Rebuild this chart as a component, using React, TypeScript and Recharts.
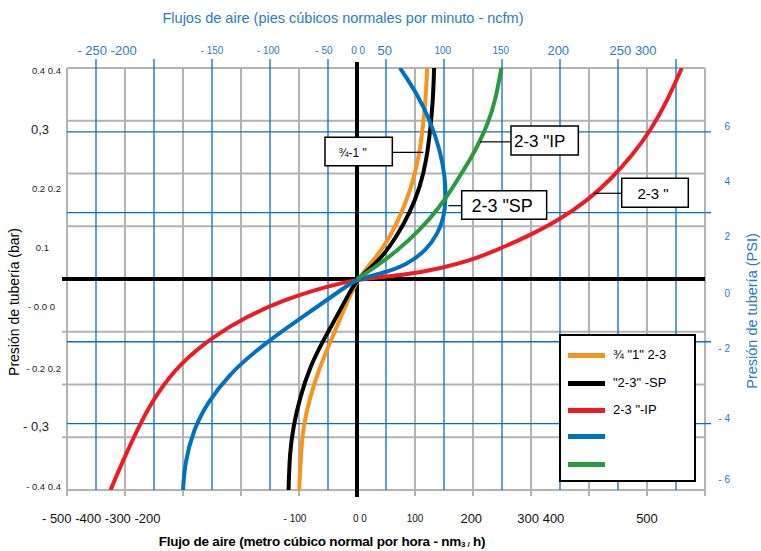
import React from 'react';
import {
  ComposedChart,
  Line,
  XAxis,
  YAxis,
  ReferenceLine,
  ReferenceArea,
  Legend,
  Label,
} from 'recharts';

// ---------- data (x: nm3/h, y: bar) ----------
const curveOrange = [
  { x: -99.5, y: -0.4 }, { x: -97, y: -0.337 }, { x: -93, y: -0.28 }, { x: -81, y: -0.223 },
  { x: -64, y: -0.166 }, { x: -42, y: -0.109 }, { x: -20, y: -0.052 }, { x: 0, y: 0 },
  { x: 34, y: 0.042 }, { x: 57, y: 0.08 }, { x: 77, y: 0.125 }, { x: 94, y: 0.175 },
  { x: 106, y: 0.226 }, { x: 114, y: 0.289 }, { x: 119, y: 0.352 }, { x: 121, y: 0.4 },
];
const curveBlack = [
  { x: -118, y: -0.4 }, { x: -116, y: -0.33 }, { x: -110, y: -0.28 }, { x: -98, y: -0.223 },
  { x: -81, y: -0.166 }, { x: -58, y: -0.116 }, { x: -35, y: -0.071 }, { x: -14, y: -0.028 },
  { x: 0, y: 0 }, { x: 40, y: 0.036 }, { x: 68, y: 0.08 }, { x: 91, y: 0.125 },
  { x: 109, y: 0.175 }, { x: 120, y: 0.226 }, { x: 127, y: 0.289 }, { x: 131, y: 0.339 },
  { x: 133, y: 0.4 },
];
const curveRed = [
  { x: -425, y: -0.4 }, { x: -403, y: -0.343 }, { x: -374, y: -0.274 }, { x: -345, y: -0.217 },
  { x: -305, y: -0.16 }, { x: -248, y: -0.109 }, { x: -190, y: -0.071 }, { x: -127, y: -0.04 },
  { x: -58, y: -0.016 }, { x: 0, y: 0 }, { x: 86, y: 0.008 }, { x: 143, y: 0.02 },
  { x: 195, y: 0.035 }, { x: 235, y: 0.052 }, { x: 293, y: 0.08 }, { x: 350, y: 0.113 },
  { x: 396, y: 0.148 }, { x: 436, y: 0.187 }, { x: 476, y: 0.236 }, { x: 508, y: 0.285 },
  { x: 534, y: 0.336 }, { x: 560, y: 0.4 },
];
const curveBlue = [
  { x: -300, y: -0.4 }, { x: -297, y: -0.349 }, { x: -282, y: -0.286 }, { x: -259, y: -0.236 },
  { x: -219, y: -0.179 }, { x: -173, y: -0.135 }, { x: -127, y: -0.097 }, { x: -69, y: -0.053 },
  { x: -24, y: -0.018 }, { x: 0, y: 0 }, { x: 45, y: 0.011 }, { x: 86, y: 0.027 },
  { x: 120, y: 0.055 }, { x: 140, y: 0.087 }, { x: 150, y: 0.118 }, { x: 153, y: 0.15 },
  { x: 152, y: 0.194 }, { x: 143, y: 0.245 }, { x: 126, y: 0.301 }, { x: 103, y: 0.352 },
  { x: 74, y: 0.4 },
];
const curveGreen = [
  { x: 0, y: 0 }, { x: 28, y: 0.02 }, { x: 68, y: 0.052 }, { x: 109, y: 0.093 },
  { x: 143, y: 0.137 }, { x: 166, y: 0.175 }, { x: 180, y: 0.2 }, { x: 195, y: 0.226 },
  { x: 210, y: 0.257 }, { x: 225, y: 0.293 }, { x: 238, y: 0.335 }, { x: 249, y: 0.4 },
];

const seriesNames = ['s1', 's2', 's3', 's4', 's5'];
const seriesData = [curveOrange, curveBlack, curveRed, curveBlue, curveGreen];
const legendLabels = ['¾ "1" 2-3', '"2-3" -SP', '2-3 "-IP', '', ''];

// axes / grid values
const xDomain = [-500, 600];
const yDomain = [-0.4, 0.4];
const xGridTicks = [-500, -400, -300, -200, -100, 0, 100, 200, 300, 400, 500, 600];
const xBlueTicks = [-450, -350, -250, -150, -50, 50, 150, 250, 350, 450, 550];
const yGridTicks = [0.4, 0.3, 0.2, 0.1, 0, -0.1, -0.2, -0.3, -0.4];
const yBlueTicks = [0.279, 0.126, -0.119, -0.274];

const topLabelValues = [-431, -250, -153, -57, 2, 48, 148, 248, 347, 476];
const topLabelTexts = ['- 250 -200', '- 150', '- 100', '- 50', '0 0', '50', '100', '150', '200', '250 300'];
const bottomLabelValues = [-441, -107, 5, 100, 197, 317, 500];
const bottomLabelTexts = ['- 500 -400 -300 -200', '- 100', '0 0', '100', '200', '300 400', '500'];
const leftLabelValues = [0.395, 0.284, 0.171, 0.059, -0.053, -0.17, -0.279, -0.394];
const leftLabelTexts = ['0.4 0.4', '0,3', '0.2 0.2', '0.1', '- 0.0 0', '- 0.2 0.2', '- 0,3', '- 0.4 0.4'];
const rightLabelValues = [0.29, 0.185, 0.081, -0.027, -0.132, -0.264, -0.38];
const rightLabelTexts = ['6', '4', '2', '0', '- 2', '- 4', '- 6'];

// annotation callouts (box in data coords + leader line end)
const calloutTexts = ['¾-1 "', '2-3 "IP', '2-3 "SP', '2-3 "'];
const calloutBoxX = [[-55.2, 60.9], [265.5, 381.6], [180.5, 327], [456.4, 571.2]];
const calloutBoxY = [[0.2148, 0.2686], [0.235, 0.29], [0.1132, 0.1674], [0.1359, 0.1909]];
const calloutLeaderX = [114.3, 212, 157.4, 409];
const calloutLeaderY = [0.24, 0.26, 0.139, 0.1625];

// ---------- styles ----------
const FONT = '"Liberation Sans", Arial, Helvetica, sans-serif';
const COLORS = ['#f7941d', '#000000', '#ed1c24', '#0070c0', '#2a9a3f'];
const GRID_GRAY = '#b3b3b3';
const GRID_BLUE = '#0a6fc2';
const TEXT_BLUE = '#2b7bc4';

const topLarge = ['- 250 -200', '50', '200', '250 300'];
const bottomLarge = ['- 500 -400 -300 -200', '200', '300 400', '500'];
const leftLarge = ['0,3', '- 0,3'];
const leftEndOffset: Record<string, number> = {
  '0.4 0.4': -6, '0,3': -18, '0.2 0.2': -6, '0.1': -18, '- 0.0 0': -12,
  '- 0.2 0.2': -6, '- 0,3': -18, '- 0.4 0.4': -6,
};
const calloutFont = [12, 17, 18, 15];
const calloutAnchorDx = [-6, null, -2, -2] as (number | null)[];

const topTicks = [...topLabelValues].sort((a, b) => a - b);
const bottomTicks = [...bottomLabelValues].sort((a, b) => a - b);

const TopTick = (props: any) => {
  const { x, y, payload } = props;
  const i = topLabelValues.indexOf(payload.value);
  if (i < 0) return <g />;
  const t = topLabelTexts[i];
  return (
    <text x={x} y={y - 18} textAnchor="middle" dominantBaseline="central"
      fontFamily={FONT} fontSize={topLarge.includes(t) ? 13 : 10} fill={TEXT_BLUE}>
      {t}
    </text>
  );
};

const BottomTick = (props: any) => {
  const { x, y, payload } = props;
  const i = bottomLabelValues.indexOf(payload.value);
  if (i < 0) return <g />;
  const t = bottomLabelTexts[i];
  return (
    <text x={x} y={y + 28} textAnchor="middle" dominantBaseline="central"
      fontFamily={FONT} fontSize={bottomLarge.includes(t) ? 13 : 10} fill="#111">
      {t}
    </text>
  );
};

const LeftTick = (props: any) => {
  const { x, y, payload } = props;
  const i = leftLabelValues.indexOf(payload.value);
  if (i < 0) return <g />;
  const t = leftLabelTexts[i];
  return (
    <text x={x + (leftEndOffset[t] ?? -6)} y={y} textAnchor="end" dominantBaseline="central"
      fontFamily={FONT} fontSize={leftLarge.includes(t) ? 13 : 9.5} fill="#222">
      {t}
    </text>
  );
};

const RightTick = (props: any) => {
  const { x, y, payload } = props;
  const i = rightLabelValues.indexOf(payload.value);
  if (i < 0) return <g />;
  return (
    <text x={x + 25} y={y} textAnchor="end" dominantBaseline="central"
      fontFamily={FONT} fontSize={10} fill={TEXT_BLUE}>
      {rightLabelTexts[i]}
    </text>
  );
};

const TopTitle = (props: any) => {
  const vb = props.viewBox;
  return (
    <text x={vb.x + 276} y={vb.y - 20} textAnchor="middle" dominantBaseline="central"
      fontFamily={FONT} fontSize={14.5} fill={TEXT_BLUE}>
      Flujos de aire (pies cúbicos normales por minuto - ncfm)
    </text>
  );
};

const BottomTitle = (props: any) => {
  const vb = props.viewBox;
  return (
    <text x={vb.x + 255} y={vb.y + 51} textAnchor="middle" dominantBaseline="central"
      fontFamily={FONT} fontSize={13.5} fill="#000" fontWeight="bold" letterSpacing={-0.2}>
      Flujo de aire (metro cúbico normal por hora - nm
      <tspan fontSize={8} dy={3}>3 /</tspan>
      <tspan dy={-3}> h)</tspan>
    </text>
  );
};

const LeftTitle = (props: any) => {
  const vb = props.viewBox;
  const cx = vb.x + 7;
  const cy = vb.y + 234;
  return (
    <text x={cx} y={cy} textAnchor="middle" dominantBaseline="central" transform={`rotate(-90 ${cx} ${cy})`}
      fontFamily={FONT} fontSize={14} fill="#000">
      Presión de tubería (bar)
    </text>
  );
};

const RightTitle = (props: any) => {
  const vb = props.viewBox;
  const cx = vb.x + 47;
  const cy = vb.y + 243;
  return (
    <text x={cx} y={cy} textAnchor="middle" dominantBaseline="central" transform={`rotate(-90 ${cx} ${cy})`}
      fontFamily={FONT} fontSize={14.5} fill={TEXT_BLUE}>
      Presión de tubería (PSI)
    </text>
  );
};

const makeCalloutLabel = (i: number) => (props: any) => {
  const vb = props.viewBox;
  const dx = calloutAnchorDx[i];
  const cx = vb.x + vb.width / 2;
  return dx === null ? (
    <text x={vb.x + 3} y={vb.y + vb.height / 2 + 1} textAnchor="start" dominantBaseline="central"
      fontFamily={FONT} fontSize={calloutFont[i]} fill="#000">
      {calloutTexts[i]}
    </text>
  ) : (
    <text x={cx + dx} y={vb.y + vb.height / 2 + 1} textAnchor="middle" dominantBaseline="central"
      fontFamily={FONT} fontSize={calloutFont[i]} fill="#000">
      {calloutTexts[i]}
    </text>
  );
};

const LegendBox = (props: any) => {
  const payload = (props.payload || []) as any[];
  const rows = [17, 45, 72, 98, 126];
  return (
    <div style={{
      width: 137, height: 148, boxSizing: 'border-box', border: '2px solid #000',
      background: '#fff', position: 'relative', fontFamily: FONT,
    }}>
      {payload.map((p, idx) => {
        const k = seriesNames.indexOf(p.value);
        const rowY = rows[k >= 0 ? k : idx];
        return (
          <div key={idx}>
            <div style={{ position: 'absolute', left: 7, top: rowY, width: 37, height: 5, background: p.color }} />
            <div style={{ position: 'absolute', left: 52, top: rowY - 6, fontSize: 13, lineHeight: '16px', color: '#000', whiteSpace: 'nowrap' }}>
              {k >= 0 ? legendLabels[k] : ''}
            </div>
          </div>
        );
      })}
    </div>
  );
};

export default function App() {
  const yPx = 52.75 / 0.1; // px per bar, used only for small tick-mark extensions
  const below6 = -0.4 - 6 / yPx;
  const below7 = -0.4 - 7 / yPx;
  const above9 = 0.4 + 9 / yPx;
  const above6 = 0.4 + 6 / yPx;
  const left5 = -500 - 5 / 0.58;
  const right6 = 600 + 6 / 0.58;

  return (
    <div style={{ position: 'absolute', left: 0, top: 0, width: 761, height: 551, background: '#fff' }}>
      <ComposedChart width={761} height={551} margin={{ top: 38, right: 6, bottom: 21, left: 7 }}>
        <XAxis xAxisId="bottom" dataKey="x" type="number" domain={xDomain} ticks={bottomTicks}
          interval={0} allowDataOverflow orientation="bottom" height={40}
          tickLine={false} axisLine={false} tickSize={0} tickMargin={0} tick={<BottomTick />}>
          <Label content={<BottomTitle />} />
        </XAxis>
        <XAxis xAxisId="top" dataKey="x" type="number" domain={xDomain} ticks={topTicks}
          interval={0} allowDataOverflow orientation="top" height={30}
          tickLine={false} axisLine={false} tickSize={0} tickMargin={0} tick={<TopTick />}>
          <Label content={<TopTitle />} />
        </XAxis>
        <YAxis yAxisId="left" type="number" domain={yDomain} ticks={leftLabelValues}
          interval={0} allowDataOverflow orientation="left" width={60}
          tickLine={false} axisLine={false} tickSize={0} tickMargin={0} tick={<LeftTick />}>
          <Label content={<LeftTitle />} />
        </YAxis>
        <YAxis yAxisId="right" type="number" domain={yDomain} ticks={rightLabelValues}
          interval={0} allowDataOverflow orientation="right" width={50}
          tickLine={false} axisLine={false} tickSize={0} tickMargin={0} tick={<RightTick />}>
          <Label content={<RightTitle />} />
        </YAxis>

        {/* gray grid */}
        {xGridTicks.filter((v) => v !== 0).map((v) => (
          <ReferenceLine key={`gx${v}`} xAxisId="bottom" yAxisId="left" ifOverflow="visible" zIndex={50}
            segment={[{ x: v, y: below6 }, { x: v, y: 0.4 }]} stroke={GRID_GRAY} strokeWidth={2} />
        ))}
        {yGridTicks.filter((v) => v !== 0).map((v) => (
          <ReferenceLine key={`gy${v}`} xAxisId="bottom" yAxisId="left" ifOverflow="visible" zIndex={50}
            segment={[{ x: v < 0 && v > -0.4 ? left5 : -500, y: v }, { x: 600, y: v }]} stroke={GRID_GRAY} strokeWidth={2} />
        ))}
        {/* blue grid */}
        {xBlueTicks.map((v) => (
          <ReferenceLine key={`bx${v}`} xAxisId="bottom" yAxisId="left" ifOverflow="visible" zIndex={55}
            segment={[{ x: v, y: -0.4 }, { x: v, y: above9 }]} stroke={GRID_BLUE} strokeWidth={1.3} />
        ))}
        {yBlueTicks.map((v) => (
          <ReferenceLine key={`by${v}`} xAxisId="bottom" yAxisId="left" ifOverflow="visible" zIndex={55}
            segment={[{ x: -500, y: v }, { x: right6, y: v }]} stroke={GRID_BLUE} strokeWidth={1.3} />
        ))}
        {/* zero axes */}
        <ReferenceLine xAxisId="bottom" yAxisId="left" ifOverflow="visible" zIndex={60}
          segment={[{ x: left5, y: 0 }, { x: 600, y: 0 }]} stroke="#000" strokeWidth={4} />
        <ReferenceLine xAxisId="bottom" yAxisId="left" ifOverflow="visible" zIndex={60}
          segment={[{ x: 0, y: below7 }, { x: 0, y: above6 }]} stroke="#000" strokeWidth={4} />

        {seriesNames.map((n, i) => (
          <Line key={n} name={n} xAxisId="bottom" yAxisId="left" data={seriesData[i]} dataKey="y"
            type="basis" stroke={COLORS[i]} strokeWidth={4} dot={false} activeDot={false}
            isAnimationActive={false} zIndex={400} />
        ))}

        {/* callouts */}
        {calloutTexts.map((t, i) => (
          <ReferenceLine key={`cl${i}`} xAxisId="bottom" yAxisId="left" ifOverflow="visible" zIndex={1400}
            segment={[{ x: calloutLeaderX[i], y: calloutLeaderY[i] }, { x: calloutBoxX[i][0], y: calloutLeaderY[i] }]}
            stroke="#000" strokeWidth={1.2} />
        ))}
        {calloutTexts.map((t, i) => (
          <ReferenceArea key={`ca${i}`} xAxisId="bottom" yAxisId="left" ifOverflow="visible" zIndex={1500}
            x1={calloutBoxX[i][0]} x2={calloutBoxX[i][1]} y1={calloutBoxY[i][0]} y2={calloutBoxY[i][1]}
            fill="#fff" fillOpacity={1} stroke="#000" strokeWidth={1.5}
            label={makeCalloutLabel(i)} />
        ))}

        <Legend layout="vertical" align="center" verticalAlign="middle" content={<LegendBox />}
          wrapperStyle={{ position: 'absolute', left: 559, top: 334, width: 137, height: 148, margin: 0, padding: 0 }} />
      </ComposedChart>
    </div>
  );
}
